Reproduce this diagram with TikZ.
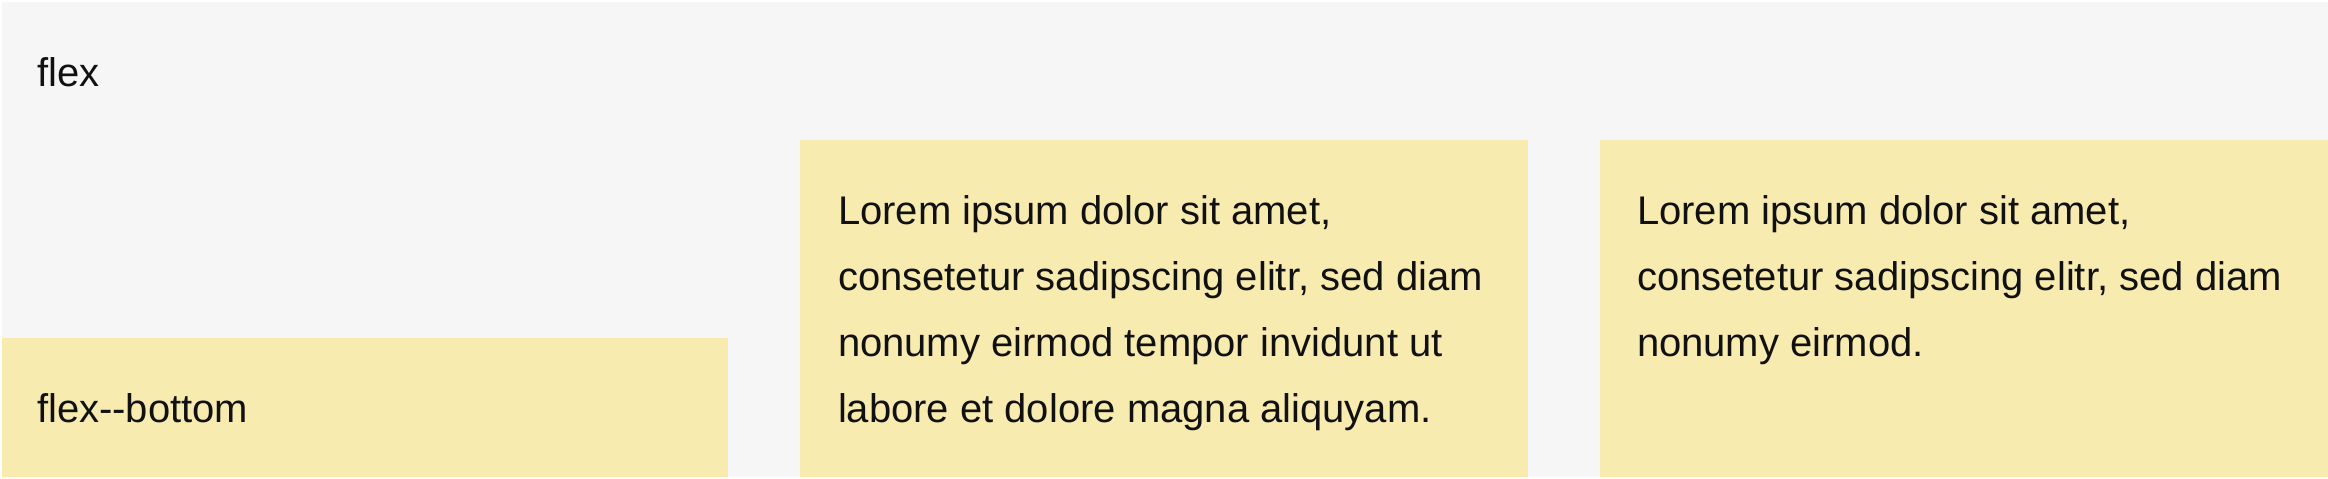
\documentclass[tikz,border=0pt]{standalone}
\usepackage{fontspec}
\setmainfont{Liberation Sans}[Ligatures=NoCommon]
\definecolor{pagegray}{HTML}{F6F6F6}
\definecolor{itemyellow}{HTML}{F7EBB0}
\definecolor{inktext}{HTML}{111111}
\begin{document}
\begin{tikzpicture}[x=0.5pt,y=-0.5pt,
  itembox/.style={fill=itemyellow,draw=none},
  label/.style={anchor=base west,inner sep=0pt,outer sep=0pt,text=inktext,font=\fontsize{20pt}{33pt}\selectfont}]
\fill[white] (0,0) rectangle (2328,478);
\useasboundingbox (0,0) rectangle (2328,478);
\fill[pagegray] (2,2) rectangle (2328,477);
\fill[itembox] (2,338) rectangle (728,477);
\fill[itembox] (800,140) rectangle (1528,477);
\fill[itembox] (1600,140) rectangle (2328,477);
\node[label] (flex) at (37,86) {flex};
\node[label] (bottom) at (37,422) {flex-{}-bottom};
\node[label] (p1a) at (838,224) {Lorem ipsum dolor sit amet,};
\node[label] (p1b) at (838,290) {consetetur sadipscing elitr, sed diam};
\node[label] (p1c) at (838,356) {nonumy eirmod tempor invidunt ut};
\node[label] (p1d) at (838,422) {labore et dolore magna aliquyam.};
\node[label] (p2a) at (1637,224) {Lorem ipsum dolor sit amet,};
\node[label] (p2b) at (1637,290) {consetetur sadipscing elitr, sed diam};
\node[label] (p2c) at (1637,356) {nonumy eirmod.};
\end{tikzpicture}
\end{document}
